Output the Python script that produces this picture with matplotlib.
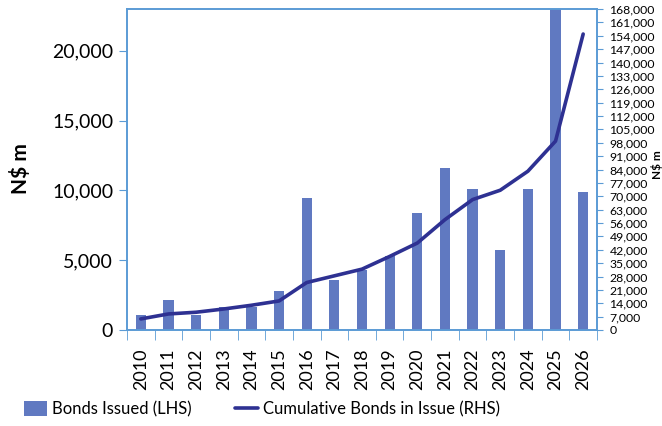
import matplotlib
matplotlib.use("Agg")
import matplotlib.pyplot as plt
import numpy as np

# Podaci ocitani sa slike
years = ['2010', '2011', '2012', '2013', '2014', '2015', '2016', '2017', '2018',
         '2019', '2020', '2021', '2022', '2023', '2024', '2025', '2026']
bonds_issued = [1050, 2150, 1080, 1630, 1650, 2800, 9470, 3590, 4300,
                5330, 8370, 11600, 10110, 5740, 10110, 25000, 9880]
cumulative = [5800, 8400, 9300, 11000, 12950, 15200, 24850, 28350, 31850,
              38500, 45500, 57750, 68250, 73150, 83100, 98850, 154900]

bar_label = 'Bonds Issued (LHS)'
line_label = 'Cumulative Bonds in Issue (RHS)'

plt.rcParams['font.family'] = ['Lato', 'DejaVu Sans']

bar_color = '#6079C1'
line_color = '#2E3192'
axis_color = '#5B9BD5'

fig = plt.figure(figsize=(6.62, 4.26), dpi=100)
ax1 = fig.add_axes([127 / 662, 1 - 330 / 426, 470 / 662, 321 / 426])
ax2 = ax1.twinx()

x = np.arange(len(years))
bars = ax1.bar(x, bonds_issued, width=0.37, color=bar_color, label=bar_label, zorder=2)
line, = ax2.plot(x, cumulative, color=line_color, lw=2.6, label=line_label,
                 solid_capstyle='round', zorder=3)

ax1.set_xlim(-0.5, len(years) - 0.5)
ax1.set_ylim(0, 23000)
ax2.set_ylim(0, 168000)

# Lijeva osa
ax1.set_yticks(np.arange(0, 20001, 5000))
ax1.set_yticklabels([f'{v:,}' for v in range(0, 20001, 5000)], fontsize=14)
ax1.tick_params(axis='y', direction='out', length=6, color=axis_color, pad=4)

# Desna osa
rticks = np.arange(0, 168001, 7000)
ax2.set_yticks(rticks)
ax2.set_yticklabels([f'{v:,}' for v in rticks], fontsize=8.8)
ax2.tick_params(axis='y', direction='out', length=4, color=axis_color, pad=5)

# X osa: oznake u sredini, crtice na granicama
ax1.set_xticks(x)
ax1.set_xticklabels(years, rotation=90, fontsize=13)
ax1.set_xticks(np.arange(-0.5, len(years), 1), minor=True)
ax1.tick_params(axis='x', which='major', length=0, pad=13)
ax1.tick_params(axis='x', which='minor', length=7, color=axis_color)

for ax in (ax1, ax2):
    for s in ax.spines.values():
        s.set_color(axis_color)
        s.set_linewidth(1.2)

fig.text(20 / 662, 1 - 169 / 426, 'N$ m', rotation=90, ha='center', va='center',
         fontsize=15, fontweight='bold')
fig.text(657 / 662, 1 - 165 / 426, 'N$ m', rotation=90, ha='center', va='center',
         fontsize=8.5, fontweight='bold')

fig.legend([bars, line], [bar_label, line_label], loc='center',
           bbox_to_anchor=(262 / 662, 1 - 409 / 426), ncol=2, frameon=False,
           fontsize=12, handlelength=1.4, handleheight=1.0, handletextpad=0.3,
           columnspacing=2.6, borderaxespad=0)

fig.savefig('out.png', dpi=100)
